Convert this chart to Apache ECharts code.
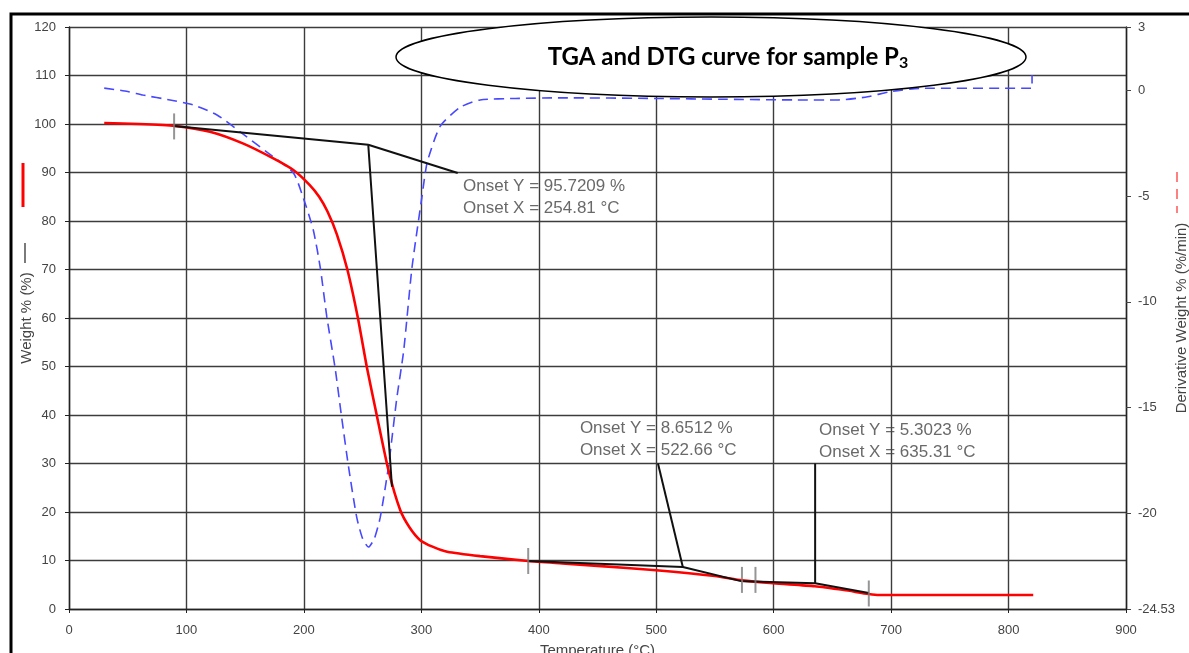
<!DOCTYPE html>
<html>
<head>
<meta charset="utf-8">
<script src="https://cdn.jsdelivr.net/npm/echarts@6/dist/echarts.min.js"></script>
<style>
  html, body { margin: 0; padding: 0; background: #fff; overflow: hidden; }
  #chart { width: 1189px; height: 653px; }
</style>
</head>
<body>
<div id="chart"></div>
<script>
// TGA weight loss curve (weight % vs temperature, °C)
const tgaTemp   = [30, 60, 90, 120, 148, 174, 191, 205, 213, 220, 228, 237, 246, 253.5, 262, 272, 282, 290, 299, 310, 322, 350, 391, 420, 450, 500, 550, 573, 600, 635, 660, 681, 690, 760, 821];
const tgaWeight = [100.2, 100.0, 99.6, 98.4, 96.0, 92.9, 90.5, 87.4, 85.0, 82.0, 77.3, 70.0, 60.0, 50.0, 40.0, 28.6, 20.4, 16.8, 14.2, 12.8, 11.8, 10.9, 9.9, 9.4, 8.9, 8.0, 6.8, 5.9, 5.3, 4.7, 3.9, 3.1, 2.9, 2.9, 2.9];

// DTG curve (derivative weight %/min vs temperature, °C)
const dtgTemp = [30, 50, 63, 86, 106, 126, 146, 168, 191, 199, 208, 214, 219.5, 226.5, 232, 238, 245, 250, 255, 260, 265, 272, 279, 285, 292, 300.6, 305, 316, 333, 350, 380, 420, 500, 560, 620, 655, 680, 700, 725, 820, 820];
const dtgRate = [0.11, -0.05, -0.22, -0.45, -0.69, -1.16, -1.97, -2.9, -3.9, -5.0, -6.6, -8.4, -10.7, -13.1, -15.4, -17.8, -20.2, -21.2, -21.6, -21.2, -20.2, -17.8, -14.6, -12.3, -8.4, -5.0, -3.4, -1.7, -0.8, -0.45, -0.38, -0.35, -0.38, -0.42, -0.45, -0.45, -0.3, -0.05, 0.1, 0.1, 0.73];

// Onset analyses: extrapolated onset points and their tangent constructions
const onsetTemp      = [254.81, 522.66, 635.31];
const onsetWeight    = [95.7209, 8.6512, 5.3023];
const baseFromTemp   = [89.5, 391, 574];
const baseFromWeight = [99.6, 9.9, 5.7];
const steepToTemp    = [275, 573, 681];
const steepToWeight  = [25.2, 5.7, 3.3];
const leaderToTemp   = [331, 501.5, 635.31];
const leaderToWeight = [89.9, 30, 30];

// Analysis range limits marked on the TGA curve
const rangeTemp   = [89.5, 391, 573, 584.5, 681];
const rangeWeight = [99.5, 9.9, 6.0, 6.0, 3.2];

// Axis ticks
const rightAxisTicks = [3, 0, -5, -10, -15, -20, -24.53];

const chart = echarts.init(document.getElementById('chart'), null, { renderer: 'canvas' });

const fontArial = 'Liberation Sans, Arial, sans-serif';
const axisText = { color: '#444', fontSize: 13, fontFamily: fontArial };
const nameText = { color: '#444', fontSize: 15, fontFamily: fontArial };
const gridLine = { show: true, lineStyle: { color: '#3c3c3c', width: 1.4 } };
const blackLine = { color: '#111', width: 2 };

const zip = (xs, ys) => xs.map((x, i) => [x, ys[i]]);

// where each pair of onset text lines is anchored, in data units
const onsetLabelAnchor = [[335.5, 84.9], [435, 34.9], [638.6, 34.6]];

const tangentSeries = onsetTemp.map((t, i) => ({
  type: 'line', yAxisIndex: 0, z: 4, silent: true, showSymbol: false,
  lineStyle: blackLine,
  data: [[baseFromTemp[i], baseFromWeight[i]], [t, onsetWeight[i]], [steepToTemp[i], steepToWeight[i]]]
}));
const leaderSeries = onsetTemp.map((t, i) => ({
  type: 'line', yAxisIndex: 0, z: 4, silent: true, showSymbol: false,
  lineStyle: blackLine,
  data: [[t, onsetWeight[i]], [leaderToTemp[i], leaderToWeight[i]]]
}));

const option = {
  animation: false,
  backgroundColor: '#fff',
  grid: { left: 69, right: 63, top: 27, bottom: 44, containLabel: false, outerBoundsMode: 'none' },
  xAxis: {
    type: 'value', min: 0, max: 900, interval: 100,
    name: 'Temperature (°C)', nameLocation: 'middle', nameGap: 34, nameMoveOverlap: false,
    nameTextStyle: nameText,
    axisLine: { show: true, onZero: false, lineStyle: { color: '#222', width: 1.4 } },
    axisTick: { show: true, length: 4, lineStyle: { color: '#222' } },
    axisLabel: Object.assign({ margin: 15 }, axisText),
    splitLine: gridLine
  },
  yAxis: [
    {
      type: 'value', position: 'left', min: 0, max: 120, interval: 10,
      name: 'Weight % (%)', nameLocation: 'middle', nameGap: 35, nameRotate: 90, nameMoveOverlap: false,
      nameTextStyle: nameText,
      axisLine: { show: true, onZero: false, lineStyle: { color: '#222', width: 1.4 } },
      axisTick: { show: true, length: 4, lineStyle: { color: '#222' } },
      axisLabel: Object.assign({ margin: 13 }, axisText),
      splitLine: gridLine
    },
    {
      type: 'value', position: 'right', min: -24.53, max: 3,
      name: 'Derivative Weight % (%/min)', nameLocation: 'middle', nameGap: 48, nameRotate: 90, nameMoveOverlap: false,
      nameTextStyle: nameText,
      axisLine: { show: true, onZero: false, lineStyle: { color: '#222', width: 1.4 } },
      axisTick: { show: true, length: 5, customValues: rightAxisTicks, lineStyle: { color: '#444' } },
      axisLabel: Object.assign({ margin: 12, customValues: rightAxisTicks, formatter: v => String(v) }, axisText),
      splitLine: { show: false }
    }
  ],
  series: [
    {
      name: 'DTG', type: 'line', yAxisIndex: 1, z: 2, silent: true, showSymbol: false,
      smooth: 0.2,
      lineStyle: { color: '#4848ff', width: 1.6, type: [10, 6] },
      data: zip(dtgTemp, dtgRate)
    },
    {
      name: 'TGA', type: 'line', yAxisIndex: 0, z: 3, silent: true, showSymbol: false,
      smooth: 0.2,
      lineStyle: { color: '#ff0000', width: 2.6 },
      data: zip(tgaTemp, tgaWeight)
    },
    ...tangentSeries,
    ...leaderSeries,
    {
      type: 'scatter', yAxisIndex: 0, z: 5, silent: true,
      symbol: 'rect', symbolSize: [2, 26],
      itemStyle: { color: '#7a7a7a' },
      data: zip(rangeTemp, rangeWeight)
    },
    {
      type: 'scatter', yAxisIndex: 0, z: 6, silent: true,
      symbolSize: 0,
      data: onsetTemp.map((t, i) => ({
        value: onsetLabelAnchor[i],
        label: {
          show: true, position: 'right', distance: 0,
          formatter: 'Onset Y = ' + onsetWeight[i].toFixed(4) + ' %\nOnset X = ' + t.toFixed(2) + ' °C',
          color: '#444', fontSize: 17, lineHeight: 22,
          fontFamily: fontArial
        }
      }))
    }
  ],
  graphic: [
    // title balloon
    {
      type: 'ellipse', z: 100, silent: true,
      shape: { cx: 711, cy: 57, rx: 315, ry: 40 },
      style: { fill: '#fff', stroke: '#000', lineWidth: 1.5 }
    },
    {
      type: 'text', z: 101, silent: true, x: 728, y: 57,
      style: {
        text: '{t|TGA and DTG curve for sample P}{s|3}',
        align: 'center', verticalAlign: 'middle',
        rich: {
          t: { fontSize: 24, fontWeight: 'bold', fontFamily: 'Lato, sans-serif', color: '#111', lineHeight: 28 },
          s: { fontSize: 16, fontWeight: 'bold', fontFamily: 'Lato, sans-serif', color: '#111', lineHeight: 16, verticalAlign: 'bottom' }
        }
      }
    },
    // axis-name line keys
    { type: 'line', z: 100, silent: true, shape: { x1: 23, y1: 163, x2: 23, y2: 207 }, style: { stroke: '#ff0000', lineWidth: 3 } },
    { type: 'line', z: 100, silent: true, shape: { x1: 25, y1: 243, x2: 25, y2: 263 }, style: { stroke: '#222', lineWidth: 1.2 } },
    { type: 'line', z: 100, silent: true, shape: { x1: 1177, y1: 172, x2: 1177, y2: 213 }, style: { stroke: '#ff8080', lineWidth: 2, lineDash: [10, 7] } },
    // outer frame
    {
      type: 'rect', z: 102, silent: true,
      shape: { x: 11, y: 14, width: 1400, height: 1000 },
      style: { fill: 'none', stroke: '#000', lineWidth: 3 }
    }
  ]
};

chart.setOption(option);
</script>
</body>
</html>
